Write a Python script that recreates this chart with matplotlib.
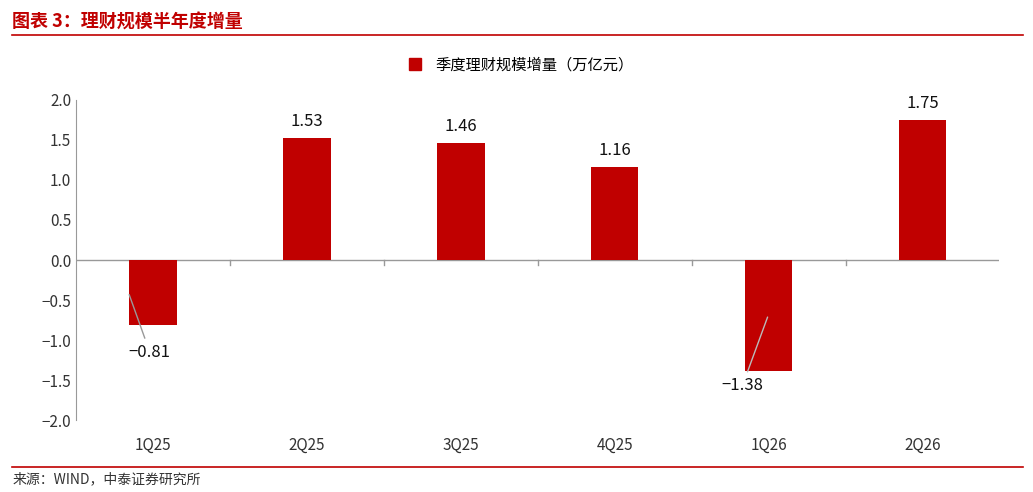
import matplotlib
matplotlib.use("Agg")
import matplotlib.pyplot as plt
from matplotlib.lines import Line2D

plt.rcParams['font.family'] = ['Noto Sans CJK SC', 'DejaVu Sans']

categories = ["1Q25", "2Q25", "3Q25", "4Q25", "1Q26", "2Q26"]
values = [-0.81, 1.53, 1.46, 1.16, -1.38, 1.75]
labels = ["-0.81", "1.53", "1.46", "1.16", "-1.38", "1.75"]
red = "#C00000"

fig = plt.figure(figsize=(10.33, 4.92), dpi=100)
ax = fig.add_axes([0.0735, 0.146, 0.894, 0.651])
x = list(range(len(categories)))
ax.bar(x, values, width=0.31, color=red, zorder=3)
ax.set_xlim(-0.5, len(categories) - 0.5)
ax.set_ylim(-2.0, 2.0)
ax.set_yticks([-2.0, -1.5, -1.0, -0.5, 0.0, 0.5, 1.0, 1.5, 2.0])
ax.set_yticklabels([f"{v:.1f}".replace("-", "−") for v in ax.get_yticks()], fontsize=11, color="#333333")
ax.set_xticks(x)
ax.set_xticklabels(categories, fontsize=11, color="#333333")
ax.tick_params(axis='x', length=0, pad=12)
ax.tick_params(axis='y', length=0)
for s in ["top", "right", "bottom"]:
    ax.spines[s].set_visible(False)
ax.spines["left"].set_color("#999999")
ax.axhline(0, color="#999999", lw=1, zorder=2)
for b in [0.5, 1.5, 2.5, 3.5, 4.5]:
    ax.plot([b, b], [0, -0.06], color="#999999", lw=1)

for i, (v, l) in enumerate(zip(values, labels)):
    t = l.replace("-", "−")
    if v >= 0:
        ax.text(i, v + 0.1, t, ha="center", va="bottom", fontsize=12, color="#111111")
    else:
        if i == 0:
            ax.annotate(t, xy=(i - 0.16, -0.4), xytext=(i - 0.02, -1.15),
                        ha="center", va="center", fontsize=12, color="#111111",
                        arrowprops=dict(arrowstyle="-", color="#999999", lw=1))
        else:
            ax.annotate(t, xy=(i, -0.68), xytext=(i - 0.17, -1.57),
                        ha="center", va="center", fontsize=12, color="#111111",
                        arrowprops=dict(arrowstyle="-", color="#bbbbbb", lw=1))

h = Line2D([], [], marker="s", color=red, linestyle="none", markersize=9)
fig.legend([h], ["季度理财规模增量（万亿元）"], loc="center", bbox_to_anchor=(0.5, 0.868),
           frameon=False, fontsize=11, handletextpad=0.3)

fig.text(0.012, 0.955, "图表 3：理财规模半年度增量", color=red, fontsize=13,
         fontweight="bold", style="italic", va="center")
fig.add_artist(Line2D([0.012, 0.99], [0.928, 0.928], color=red, lw=1.2))
fig.add_artist(Line2D([0.012, 0.99], [0.05, 0.05], color=red, lw=1.2))
fig.text(0.012, 0.025, "来源：WIND，中泰证券研究所", fontsize=10, color="#333333", va="center")

fig.savefig("out.png", dpi=100)
